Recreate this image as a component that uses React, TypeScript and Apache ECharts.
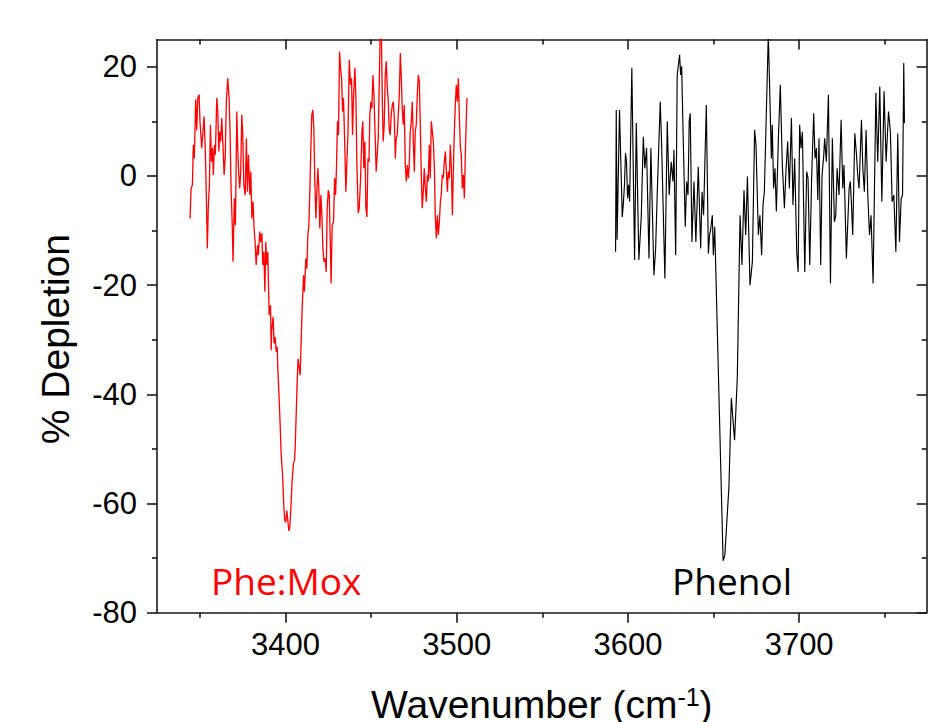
import React, { useEffect, useRef } from 'react';
import * as echarts from 'echarts';

// Phe:Mox spectrum (red)
const redX = [3344.3,3344.9,3345.7,3346.2,3346.8,3347.6,3348.2,3348.8,3349.6,3350.1,3351.1,3351.7,3352.5,3353.1,3353.6,3354.4,3355.0,3355.6,3356.2,3356.8,3357.4,3357.9,3358.5,3359.1,3359.9,3360.5,3361.1,3361.6,3362.2,3362.8,3363.6,3364.2,3364.8,3365.5,3366.3,3367.1,3367.7,3368.3,3368.9,3369.4,3370.2,3370.8,3371.6,3372.2,3372.8,3373.3,3373.9,3374.5,3375.1,3375.7,3376.5,3377.2,3377.8,3378.4,3379.2,3379.8,3380.4,3381.1,3381.7,3382.3,3382.9,3383.7,3384.2,3385.0,3385.6,3386.2,3386.8,3387.4,3388.0,3388.5,3389.1,3389.7,
3390.5,3391.3,3391.7,3392.0,3392.8,3393.4,3394.0,3394.6,3395.2,3395.6,3396.3,3396.9,3397.5,3398.3,3399.1,3399.6,3400.2,3400.8,3401.4,3402.0,3402.6,3403.2,3403.9,3404.7,3405.3,3405.7,3406.3,3406.9,3407.4,3408.0,3408.6,3409.2,3409.8,
3410.6,3411.1,3411.9,3412.5,3413.1,3413.7,3414.3,3414.8,3415.4,3416.0,3416.6,3417.2,3417.8,3418.4,3419.0,3419.5,3420.1,3420.7,3421.3,3421.9,3422.5,3423.2,3423.8,3424.4,3425.0,3425.6,
3426.1,3426.7,3427.3,3428.1,3428.7,3429.3,3429.8,3430.4,3431.0,3431.6,3432.2,3432.8,3433.4,3433.9,3434.5,3435.3,3435.9,3436.5,3437.3,3438.0,3438.6,3439.2,3439.8,3440.6,3441.2,3441.7,3442.5,3443.1,3443.9,3444.7,3445.2,3445.8,3446.4,3447.0,3447.6,3448.2,3448.8,3449.3,3449.9,3450.5,3451.1,3451.7,3452.5,3453.0,3453.6,3454.2,3454.8,3455.4,3456.0,3456.6,3457.1,3457.7,3458.3,3458.9,3459.5,3460.1,3460.6,3461.2,3461.8,3462.4,3463.0,3463.6,3464.2,3464.7,3465.3,3465.9,3466.5,3467.1,3467.7,3468.2,3468.8,3469.4,3470.0,3470.6,3471.2,3471.8,3472.3,3472.9,3473.5,3474.1,3474.7,3475.3,3475.8,3476.4,3477.0,3477.6,3478.2,3478.8,3479.4,3479.9,3480.5,3481.1,3481.7,3482.3,3482.9,3483.4,3484.0,3484.6,3485.2,3485.8,3486.4,3487.0,3487.5,3488.1,3488.7,3489.3,3489.9,3490.5,3491.0,3491.6,3492.2,3492.8,3493.4,3494.0,3494.6,3495.1,3495.7,3496.3,3496.9,3497.5,3498.1,3498.6,3499.2,3499.8,3500.4,3501.0,3501.6,3502.2,3502.7,3503.3,3503.9,3504.5,3505.1,3505.7,3506.0];
const redY = [-7.8,-2.3,-1.6,5.7,3.2,14,8.4,14.3,14.9,10,5.1,7.5,10.9,5.7,-0.4,-13.3,-5.3,-1.6,9.4,2.6,5.1,0.2,5.7,3.9,14.3,11.8,4.5,8.1,6.3,10.6,5.1,0.2,3.2,13.6,17.9,14.3,7.5,-2.9,-8.4,-15.7,-4.1,-9,11.8,4.5,0.2,-2.3,0.8,11.2,7.5,-1.6,-3.5,6.9,-2.9,3.9,-3.5,0.8,-7.8,-4.7,-9.6,-12.1,-16.3,-12.7,-14.5,-10.2,-12.1,-10.5,-16.3,-13.9,-21.2,-12.1,-16.3,-13.9,
-25.5,-23.7,-31.9,-28.3,-25.8,-30.7,-29.5,-32.2,-31.3,-35.6,-40.5,-45.4,-50.9,-54.6,-60.7,-63.1,-63.4,-61.3,-63.1,-65,-64.3,-60.7,-55.8,-52.7,-52.1,-49.7,-43.5,-37.4,-33.5,-35,-36.5,-30.1,-24,
-18.2,-21.2,-15.1,-17,-10.8,-9,-2.3,4.5,11.2,12.1,8.8,-1.6,-7.8,-2.3,1.4,-2.3,-9.6,-3.5,-7.2,-13.3,-15.7,-15.1,-17.6,-6,-2.6,-3.5,
-10.8,-19.7,-9,-8.4,-0.4,-3.5,1.4,10,7.5,22.8,19.8,17.9,11.8,14.3,7.5,-2.9,2.6,7.5,21.3,16.7,17.9,7.5,14.9,19.8,13.6,2.6,-6.8,-5.9,-0.4,8.1,10,1.4,6.3,-5.9,-7.5,3.2,2.6,11.2,13.6,12.4,18.5,14.9,6.3,0.8,3.9,6.9,17.3,27,27,13.6,6.3,9.4,18.5,21,16.1,13.6,8.7,7.5,11.2,13,13.6,10.6,3.2,6.9,7.5,11.2,14.9,22.5,17.9,12.4,9.4,13,2,-1,2,-0.4,2,8.1,10,13.6,6.3,0.8,8.1,9.4,14.9,18.5,17.3,8.7,-0.4,-5.9,-2.9,1.4,-2.3,-4.7,0.2,-1,5.7,-0.4,10,8.1,6.3,1.4,-7.2,-11.4,-7.2,-10.8,-8.4,-4.7,-3.5,0.2,-0.4,2.6,4.5,0.8,-2.9,0.8,-0.4,5.7,1.4,-7.2,1.4,7.5,13,16.7,13.6,17.9,10.6,5.1,3.9,-2.3,0.2,-4.1,4.5,11.2,14.3];

// Phenol spectrum (black)
const blackX = [3592.8,3593.2,3593.7,3595.1,3596.7,3597.3,3598.0,3598.6,3599.2,3599.8,3600.4,3601.0,3602.3,3603.9,3604.9,3606.4,3607.8,3609.0,3609.9,3610.9,3612.3,3613.4,3615.2,3616.2,3617.1,3618.9,3619.7,3621.6,3623.0,3624.1,3625.3,3626.3,3626.9,3627.9,3628.8,3630.2,3630.8,3631.4,3632.3,3633.5,3634.3,3635.1,3635.8,3636.4,3637.4,3638.6,3639.7,3641.1,3642.5,3643.3,3644.2,3645.8,3647.0,3647.7,3648.3,3649.3,3649.9,3650.7,
3655.6,3656.6,3659.0,3660.4,3662.3,3663.9,
3665.5,3666.6,3667.8,3668.8,3669.8,3671.3,3672.7,3674.0,3674.8,3676.2,3677.1,3678.1,3678.9,3679.7,3682.0,3683.8,3684.3,3685.1,3685.9,3686.7,3687.9,3689.0,3690.2,3691.4,3692.3,3693.3,3694.3,3695.5,3696.4,3697.4,3698.6,3699.4,3700.3,3701.1,3701.9,3703.3,3704.4,3705.2,3706.2,3707.3,3708.5,3709.3,3710.1,3710.9,3711.6,3712.6,3713.4,3714.4,3714.9,3715.9,3717.1,3718.3,3719.4,3720.6,3721.4,3722.2,3723.3,3724.5,3725.5,3726.2,3727.6,3729.2,3729.9,3730.5,3731.3,3732.5,3733.5,3734.2,3735.0,3736.4,3737.2,3738.1,3739.1,3740.1,3741.1,3742.0,3743.2,3744.8,3745.9,3747.1,3748.3,3749.6,3750.8,3752.2,3753.3,3754.3,3755.3,3756.5,3757.6,3758.6,3759.6,3760.4,3761.1,3761.5];
const blackY = [-13.9,12.1,-11.7,12.1,-7.5,-5.3,-1.6,4.2,2.6,-4.1,-1.6,-4.7,19.8,-15.4,9.7,-15.4,-7.5,7.2,1.4,5.1,-15.1,5.1,-18.2,-13.3,-3.5,13.6,5.7,-18.8,10,-3.5,2.6,-1,4.8,-14.5,18.5,22.2,18.5,20.1,6.9,-9.3,-1,-3.5,10,11.5,-12.1,-1,-12.1,1.7,-13.3,-2.9,-7.2,13,-14.2,-10.8,-9.9,-7.2,-14.5,-9.3,
-70.5,-69.5,-57,-40.7,-48.4,-36.8,
-7.2,-16.3,-2.6,-10.8,-0.1,-20,-15.7,8.4,5.7,-10.8,-7.2,-14.5,-5.3,-2.9,26,3.2,9.4,-2.3,1.4,-6.5,6.9,16.7,2,-5.9,0.8,6.3,-2.3,10.6,-5.3,3.2,-13.9,-17.6,9.4,5.1,8.1,-17.6,0.8,-0.4,-16.3,-0.4,11.5,3.2,5.1,-4.4,6.9,-16.3,0.2,3.9,6.9,2.6,14.9,-19.7,6.9,-8.4,-7.2,1.4,-3.5,10.3,-2.3,2,-15.1,-2.3,-1,-4.7,-10.8,7.8,3.9,0.2,-2.3,10.3,1.4,-2.9,8.4,-3.5,-10.8,-7.2,-19.7,15.2,2.6,16.4,-4.7,15.5,2.6,11.8,8.1,-4.7,-3.5,-13.9,7.8,-12.1,-4.1,-3.5,20.7,9.7];

const xMajorTicks = [3400, 3500, 3600, 3700];
const xMinorTicks = [3350, 3450, 3550, 3650, 3750];
const yMajorTicks = [-80, -60, -40, -20, 0, 20];
const yMinorTicks = [-70, -50, -30, -10, 10];

const X_MIN = 3325;
const X_MAX = 3774.5;
const Y_MIN = -80;
const Y_MAX = 25;

const AXIS_COLOR = '#1a1a1a';
const FONT = 'Liberation Sans';

function zip(xs: number[], ys: number[]) {
  const n = Math.min(xs.length, ys.length);
  const out: number[][] = [];
  for (let i = 0; i < n; i++) out.push([xs[i], ys[i]]);
  return out;
}

function xAxisDef(position: string, ticks: number[], len: number, inside: boolean, showLine: boolean, extra: any = {}) {
  return {
    type: 'value',
    position,
    min: X_MIN,
    max: X_MAX,
    axisLine: { show: showLine, onZero: false, lineStyle: { color: AXIS_COLOR, width: 1.6 } },
    axisTick: { show: true, inside, length: len, customValues: ticks, lineStyle: { color: AXIS_COLOR, width: 1.6 } },
    axisLabel: { show: false },
    splitLine: { show: false },
    ...extra,
  };
}

function yAxisDef(position: string, ticks: number[], len: number, inside: boolean, showLine: boolean, extra: any = {}) {
  return {
    type: 'value',
    position,
    min: Y_MIN,
    max: Y_MAX,
    axisLine: { show: showLine, onZero: false, lineStyle: { color: AXIS_COLOR, width: 1.6 } },
    axisTick: { show: true, inside, length: len, customValues: ticks, lineStyle: { color: AXIS_COLOR, width: 1.6 } },
    axisLabel: { show: false },
    splitLine: { show: false },
    ...extra,
  };
}

export default function App() {
  const ref = useRef<HTMLDivElement>(null);
  useEffect(() => {
    document.body.style.margin = '0';
    const chart = echarts.init(ref.current!, null, { renderer: 'svg' });
    const option: any = {
      animation: false,
      backgroundColor: '#ffffff',
      grid: {
        left: 157,
        right: 1.3,
        top: 39.5,
        bottom: 109.3,
        containLabel: false,
        outerBoundsMode: 'none',
      },
      xAxis: [
        xAxisDef('bottom', xMajorTicks, 10, false, true, {
          axisLabel: {
            show: true,
            customValues: xMajorTicks,
            formatter: (v: number) => String(v),
            fontSize: 31,
            fontFamily: FONT,
            color: '#000',
            margin: 16,
          },
          name: '{t|Wavenumber (cm}{s|-1}{t|)}',
          nameLocation: 'middle',
          nameGap: 72,
          nameTextStyle: {
            rich: {
              t: { fontSize: 39, fontFamily: FONT, color: '#000' },
              s: { fontSize: 25, fontFamily: FONT, color: '#000', verticalAlign: 'top' },
            },
          },
        }),
        xAxisDef('bottom', xMinorTicks, 5, false, false),
        xAxisDef('top', xMajorTicks, 10, true, true),
        xAxisDef('top', xMinorTicks, 5, true, false),
      ],
      yAxis: [
        yAxisDef('left', yMajorTicks, 10, false, true, {
          axisLabel: {
            show: true,
            customValues: yMajorTicks,
            formatter: (v: number) => String(v),
            fontSize: 31,
            fontFamily: FONT,
            color: '#000',
            margin: 20,
          },
          name: '% Depletion',
          nameLocation: 'middle',
          nameGap: 82,
          nameTextStyle: { fontSize: 39, fontFamily: FONT, color: '#000', padding: [0, 26, 0, 0] },
        }),
        yAxisDef('left', yMinorTicks, 5, false, false),
        yAxisDef('right', yMajorTicks, 10, true, true),
        yAxisDef('right', yMinorTicks, 5, true, false),
      ],
      series: [
        {
          name: 'Phe:Mox',
          type: 'line',
          xAxisIndex: 0,
          yAxisIndex: 0,
          data: zip(redX, redY),
          symbol: 'none',
          showSymbol: false,
          clip: true,
          lineStyle: { color: '#ff0000', width: 1.3 },
          z: 3,
        },
        {
          name: 'Phenol',
          type: 'line',
          xAxisIndex: 0,
          yAxisIndex: 0,
          data: zip(blackX, blackY),
          symbol: 'none',
          showSymbol: false,
          clip: true,
          lineStyle: { color: '#000000', width: 1.15 },
          z: 3,
        },
      ],
      graphic: [
        {
          type: 'text',
          x: 211,
          y: 580,
          style: { text: 'Phe:Mox', fill: '#ff0000', fontSize: 37, fontFamily: 'Open Sans', verticalAlign: 'middle' },
        },
        {
          type: 'text',
          x: 672,
          y: 580,
          style: { text: 'Phenol', fill: '#000000', fontSize: 37, fontFamily: 'Open Sans', verticalAlign: 'middle' },
        },
      ],
    };
    chart.setOption(option);
    return () => chart.dispose();
  }, []);
  return <div ref={ref} style={{ width: 928, height: 722 }} />;
}
